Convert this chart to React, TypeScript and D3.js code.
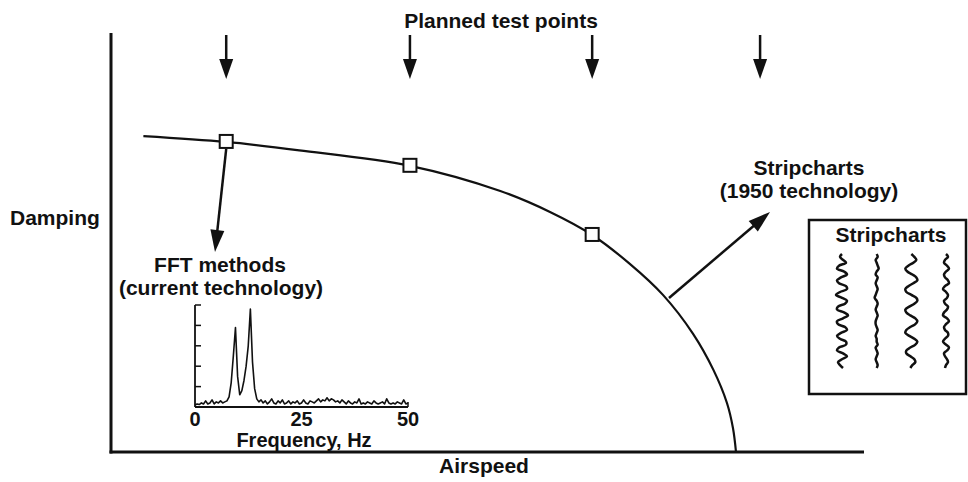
import * as d3 from "d3";

// main stability curve: damping vs airspeed (chart units)
const curveAirspeed = [4.3, 15.3, 25, 39.7, 51.7, 58.3, 63.9, 68.9, 73.3, 77.3, 80, 81.8, 82.6, 83];
const curveDamping = [7.54, 7.4, 7.2, 6.83, 6.23, 5.73, 5.18, 4.49, 3.75, 2.82, 1.96, 1.17, 0.57, 0];

// test points already flown, and the planned ones
const testAirspeed = [15.3, 39.7, 63.9];
const testDamping = [7.4, 6.83, 5.18];
const plannedAirspeed = [15.3, 39.7, 63.9, 86.2];

// FFT inset spectrum, 0.5 Hz steps from 0 to 50 Hz
const fftAmplitude = [
  0.1, 0.15, 0.12, 0.2, 0.15, 0.3, 0.15, 0.2, 0.35, 0.15,
  0.25, 0.2, 0.3, 0.2, 0.25, 0.3, 0.5, 1.2, 2.5, 3.9,
  1.5, 0.6, 0.8, 1.3, 2.0, 3.0, 4.8, 2.2, 0.9, 0.4,
  0.25, 0.35, 0.2, 0.3, 0.15, 0.25, 0.4, 0.2, 0.15, 0.3,
  0.2, 0.35, 0.15, 0.2, 0.3, 0.15, 0.25, 0.2, 0.3, 0.15,
  0.2, 0.35, 0.2, 0.15, 0.3, 0.25, 0.2, 0.3, 0.4, 0.25,
  0.35, 0.3, 0.45, 0.3, 0.4, 0.35, 0.25, 0.3, 0.2, 0.35,
  0.25, 0.15, 0.3, 0.2, 0.15, 0.25, 0.2, 0.4, 0.15, 0.2,
  0.15, 0.25, 0.2, 0.15, 0.3, 0.2, 0.15, 0.2, 0.25, 0.15,
  0.4, 0.2, 0.15, 0.2, 0.15, 0.25, 0.2, 0.15, 0.35, 0.15,
  0.2,
];
const fftTicks = [0, 25, 50];
const fftAmpTicks = [1, 2, 3, 4, 5];

// stripchart traces: sideways deflection per sample
const strip1 = [0, -2, 1, 4, -3, -5, 2, 5, -1, -5, -3, 4, 5, -2, -6, 0, 5, 3, -4, -5, 2, 6, 1, -5, -4, 3, 5, -1, -5, -2, 4, 4, -3, -5, 1, 5, 0, -4, -2, 1];
const strip2 = [0, 1, -1, 0, 1, 2, 0, -1, 1, 0, -1, 0, 1, 0, -1, -2, 0, 1, 0, -1, 0, 1, 0, -1, -1, 0, 1, 0, -1, 0, 0, 1, -1, 0, 1, 0, -1, 0, 1, 0];
const strip3 = [0, 3, 5, 2, -3, -6, -4, 1, 5, 6, 2, -3, -6, -5, 0, 5, 6, 3, -2, -6, -5, -1, 4, 6, 4, -1, -5, -6, -2, 3, 6, 4, -1, -5, -5, -1, 3, 4, 1, -1];
const strip4 = [0, 2, -1, -2, 1, 3, 0, -2, -1, 2, 3, -1, -3, 0, 2, 1, -2, -1, 2, 1, -2, -3, 1, 3, 0, -2, -1, 2, 2, -1, -3, 0, 3, 1, -2, -1, 1, 2, 0, -1];
const stripTraces = [strip1, strip2, strip3, strip4];

const FONT = "'Liberation Sans', Arial, Helvetica, sans-serif";

function arrowHead(x1: number, y1: number, x2: number, y2: number, len = 22, half = 7) {
  const a = Math.atan2(y2 - y1, x2 - x1);
  const bx = x2 - len * Math.cos(a);
  const by = y2 - len * Math.sin(a);
  const px = -Math.sin(a) * half;
  const py = Math.cos(a) * half;
  return `M${x2},${y2}L${bx + px},${by + py}L${bx - px},${by - py}Z`;
}

function Arrow({ x1, y1, x2, y2, w = 2.5 }: { x1: number; y1: number; x2: number; y2: number; w?: number }) {
  const a = Math.atan2(y2 - y1, x2 - x1);
  return (
    <g>
      <line x1={x1} y1={y1} x2={x2 - 15 * Math.cos(a)} y2={y2 - 15 * Math.sin(a)} stroke="#111" strokeWidth={w} />
      <path d={arrowHead(x1, y1, x2, y2)} fill="#111" />
    </g>
  );
}

export default function App() {
  const width = 968;
  const height = 482;

  // main axes
  const x = d3.scaleLinear([0, 100], [111, 864]);
  const y = d3.scaleLinear([0, 10], [452, 33]);

  const curvePts = curveAirspeed.map((a, i) => [a, curveDamping[i]] as [number, number]);
  const curveLine = d3.line<[number, number]>()
    .x((d) => x(d[0]))
    .y((d) => y(d[1]))
    .curve(d3.curveCatmullRom.alpha(0.5));

  // inset FFT
  const fx = d3.scaleLinear([0, 50], [195, 408]);
  const fy = d3.scaleLinear([0, 5], [407, 305]);
  const fftLine = d3.line<number>()
    .x((_, i) => fx(i * 0.5))
    .y((d) => fy(d));

  // stripcharts
  const stripX = d3.scalePoint<number>().domain([0, 1, 2, 3]).range([842, 946]);
  const stripY = d3.scaleLinear([0, strip1.length - 1], [254, 368]);
  const stripLine = (trace: number[], k: number) =>
    d3.line<number>()
      .x((d) => (stripX(k) ?? 0) + d)
      .y((_, i) => stripY(i))
      .curve(d3.curveCatmullRom)(trace) ?? undefined;

  const box1 = { x: x(testAirspeed[0]), y: y(testDamping[0]) };

  return (
    <svg
      width={width}
      height={height}
      style={{ position: "absolute", left: 0, top: 0, background: "#fff" }}
      fontFamily={FONT}
      fontWeight="bold"
    >
      {/* main axes */}
      <line x1={x(0)} y1={y(10)} x2={x(0)} y2={y(0) + 1.5} stroke="#111" strokeWidth={3} />
      <line x1={x(0) - 1.5} y1={y(0)} x2={x(100)} y2={y(0)} stroke="#111" strokeWidth={3} />

      <text x={10} y={225} fontSize={21} fill="#111">Damping</text>
      <text x={484} y={473} fontSize={21} fill="#111" textAnchor="middle">Airspeed</text>
      <text x={501} y={28} fontSize={21} fill="#111" textAnchor="middle">Planned test points</text>

      {/* planned test point arrows */}
      {plannedAirspeed.map((a, i) => (
        <g key={i}>
          <line x1={x(a)} y1={35} x2={x(a)} y2={62} stroke="#111" strokeWidth={2.5} />
          <path d={arrowHead(x(a), 35, x(a), 79, 20, 7)} fill="#111" />
        </g>
      ))}

      {/* stability curve */}
      <path d={curveLine(curvePts) ?? undefined} fill="none" stroke="#111" strokeWidth={2.2} />

      {/* test point boxes */}
      {testAirspeed.map((a, i) => (
        <rect key={i} x={x(a) - 6.5} y={y(testDamping[i]) - 7} width={13} height={13} fill="#fff" stroke="#111" strokeWidth={2} />
      ))}

      {/* FFT annotation */}
      <Arrow x1={box1.x} y1={box1.y + 7} x2={215} y2={252} />
      <text x={220} y={272} fontSize={21} fill="#111" textAnchor="middle">FFT methods</text>
      <text x={221} y={295} fontSize={21} fill="#111" textAnchor="middle">(current technology)</text>

      {/* FFT inset */}
      <path d={fftLine(fftAmplitude) ?? undefined} fill="none" stroke="#111" strokeWidth={1.6} strokeLinejoin="round" />
      <line x1={fx(0)} y1={fy(0)} x2={fx(50)} y2={fy(0)} stroke="#111" strokeWidth={2} />
      <line x1={fx(0)} y1={fy(5)} x2={fx(0)} y2={fy(0)} stroke="#111" strokeWidth={1.8} />
      {fftAmpTicks.map((t) => (
        <line key={t} x1={fx(0)} y1={fy(t)} x2={fx(0) + 6} y2={fy(t)} stroke="#111" strokeWidth={1.5} />
      ))}
      <line x1={fx(50)} y1={fy(0)} x2={fx(50)} y2={fy(0) - 5} stroke="#111" strokeWidth={1.5} />
      {fftTicks.map((t) => (
        <text key={t} x={fx(t)} y={426} fontSize={20} fill="#111" textAnchor="middle">{t}</text>
      ))}
      <text x={304} y={447} fontSize={20} fill="#111" textAnchor="middle">Frequency, Hz</text>

      {/* stripcharts annotation */}
      <Arrow x1={669} y1={298} x2={770} y2={212} />
      <text x={809} y={175} fontSize={21} fill="#111" textAnchor="middle">Stripcharts</text>
      <text x={809} y={198} fontSize={21} fill="#111" textAnchor="middle">(1950 technology)</text>

      <rect x={809} y={220} width={157} height={174} fill="#fff" stroke="#111" strokeWidth={2.5} />
      <text x={891} y={242} fontSize={21} fill="#111" textAnchor="middle">Stripcharts</text>
      {stripTraces.map((t, k) => (
        <path key={k} d={stripLine(t, k)} fill="none" stroke="#111" strokeWidth={2.5} strokeLinejoin="round" />
      ))}
    </svg>
  );
}
